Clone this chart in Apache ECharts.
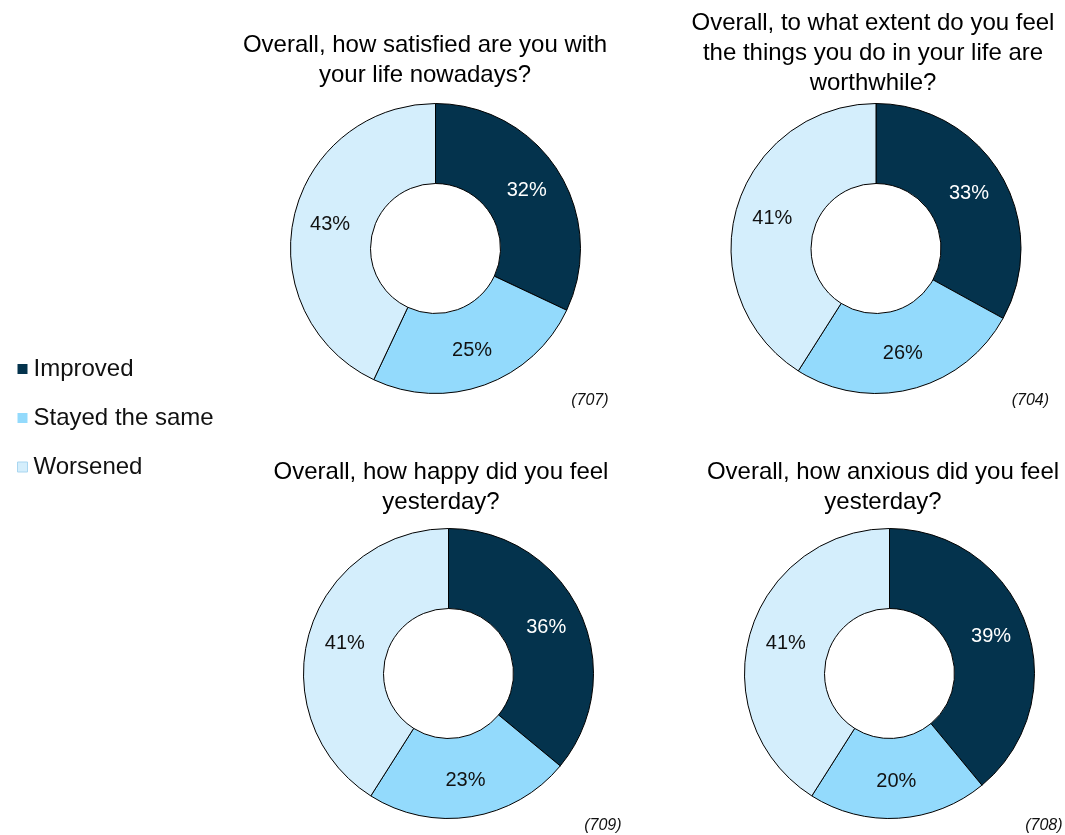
<!DOCTYPE html>
<html>
<head>
<meta charset="utf-8">
<style>
  html, body { margin: 0; padding: 0; background: #ffffff; }
  #chart { width: 1065px; height: 835px; }
</style>
<script src="https://cdn.jsdelivr.net/npm/echarts@6/dist/echarts.min.js"></script>
</head>
<body>
<div id="chart"></div>
<script>
// Answer categories shared by all four questions
const categories = ['Improved', 'Stayed the same', 'Worsened'];

// Share of respondents (%) per question, in category order
const satisfiedValues = [32, 25, 43];
const worthwhileValues = [33, 26, 41];
const happyValues = [36, 23, 41];
const anxiousValues = [39, 20, 41];

// Question wording shown above each doughnut
const questionTitles = [
  'Overall, how satisfied are you with\nyour life nowadays?',
  'Overall, to what extent do you feel\nthe things you do in your life are\nworthwhile?',
  'Overall, how happy did you feel\nyesterday?',
  'Overall, how anxious did you feel\nyesterday?'
];

// Base sizes for each question
const baseSizes = ['(707)', '(704)', '(709)', '(708)'];

const FONT = '"Liberation Sans", Arial, Helvetica, sans-serif';
const sliceColors = ['#04334d', '#93dafc', '#d4eefc'];
const labelColors = ['#ffffff', '#111111', '#111111'];

// Layout of the 2x2 grid of doughnuts
const panels = [
  { values: satisfiedValues,  cx: 435.5, cy: 248.5, titleX: 425, titleY: 30 },
  { values: worthwhileValues, cx: 876,   cy: 248.5, titleX: 873, titleY: 8 },
  { values: happyValues,      cx: 448.5, cy: 673.5, titleX: 441, titleY: 457 },
  { values: anxiousValues,    cx: 889.5, cy: 673.5, titleX: 883, titleY: 457 }
];

const series = panels.map((p, i) => ({
  type: 'pie',
  name: 'q' + i,
  center: [p.cx, p.cy],
  radius: [65, 145],
  startAngle: 90,
  clockwise: true,
  silent: true,
  animation: false,
  itemStyle: { borderColor: '#000000', borderWidth: 1 },
  label: {
    show: true,
    position: 'inside',
    formatter: '{c}%',
    fontFamily: FONT,
    fontSize: 20
  },
  labelLine: { show: false },
  data: categories.map((name, k) => ({
    name: name,
    value: p.values[k],
    itemStyle: { color: sliceColors[k] },
    label: { color: labelColors[k] }
  }))
}));

const graphics = [];
panels.forEach((p, i) => {
  graphics.push({
    type: 'text',
    x: p.titleX,
    y: p.titleY,
    silent: true,
    style: {
      text: questionTitles[i],
      fontFamily: FONT,
      fontSize: 24,
      lineHeight: 30,
      fill: '#000000',
      textAlign: 'center',
      textVerticalAlign: 'top'
    }
  });
  graphics.push({
    type: 'text',
    x: p.cx + 173,
    y: p.cy + 152,
    silent: true,
    style: {
      text: baseSizes[i],
      fontFamily: FONT,
      fontSize: 16,
      fontStyle: 'italic',
      fill: '#111111',
      textAlign: 'right',
      textVerticalAlign: 'middle'
    }
  });
});

const chart = echarts.init(document.getElementById('chart'), null, { renderer: 'canvas' });
chart.setOption({
  backgroundColor: '#ffffff',
  animation: false,
  legend: {
    orient: 'vertical',
    left: 12,
    top: 352,
    itemWidth: 10,
    itemHeight: 10,
    itemGap: 25,
    icon: 'rect',
    selectedMode: false,
    itemStyle: { borderWidth: 0 },
    textStyle: { fontFamily: FONT, fontSize: 24, lineHeight: 24, color: '#111111', padding: [0, 0, 0, 1] },
    data: categories.map((name, k) => ({
      name: name,
      itemStyle: k === 2 ? { borderColor: '#a9d6f0', borderWidth: 1 } : { borderWidth: 0 }
    }))
  },
  graphic: graphics,
  series: series
});
</script>
</body>
</html>
